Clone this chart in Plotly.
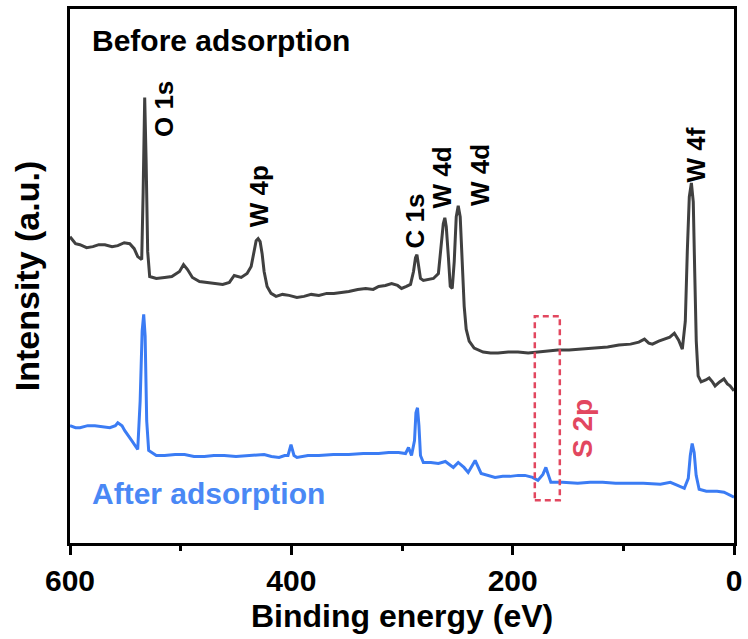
import plotly.graph_objects as go

# ---- data (binding energy in eV, intensity in a.u.) ----
before_energy = [600, 595, 591, 585, 579.3, 574, 568.5, 562, 556.8, 551, 546, 542, 538.8, 535.2,
                 533.9, 532.5, 531.2, 529.8, 528, 522, 514.5, 508, 501, 497.4, 493.8, 489.4, 483,
                 476, 469.6, 462, 456, 451.6, 445.3, 440, 436.3, 433.6, 431.8, 430, 428.2, 426.4,
                 424.6, 421.9, 418.3, 413.8, 408, 402.1, 395, 388.6, 382, 375.1, 368, 361.6, 355,
                 348.1, 340, 332.8, 326, 321.1, 315, 309.4, 304, 300.4, 296, 292.3, 289.6, 287.8,
                 286.5, 285.1, 283.3, 280.7, 276, 271.6, 267.1, 264.4, 262.7, 261.3, 260, 258.1,
                 256.4, 254.6, 252.8, 251, 249.2, 247.4, 245.6, 243.8, 242, 239.3, 234.8, 226.7,
                 220, 213.2, 204, 195.2, 186, 177.2, 168, 159.2, 149, 138.5, 126, 114.2, 104, 93.5,
                 86, 80.9, 77, 73.7, 68, 62.9, 58, 53.9, 50, 46.7, 44, 42.2, 40.4, 38.5, 36.8,
                 35.5, 34.1, 32.4, 29.7, 25.5, 22.5, 19.5, 17.1, 13, 9.1, 6, 3.6, 0]
before_intensity = [308, 301, 300, 297, 298, 300, 300, 298, 299, 302, 301, 296, 288, 285,
                    353, 448, 383, 293, 268, 266, 267, 268, 273, 280, 275, 267, 263,
                    262, 261, 260, 262, 269, 267, 271, 278, 295, 304, 306, 303, 291,
                    273, 258, 251, 248, 250, 249, 247, 248, 250, 249, 251, 251, 252,
                    253, 255, 256, 255, 258, 259, 261, 259, 256, 258, 260, 273, 287,
                    290, 281, 266, 264, 265, 266, 271, 298, 321, 327, 318, 288,
                    258, 256, 283, 328, 339, 328, 283, 238, 215, 203, 196, 192,
                    191, 191, 192, 192, 191, 192, 193, 194, 194, 195, 196, 197, 199, 200,
                    202, 205, 201, 200, 203, 205, 207, 211, 204, 195, 223, 293, 348, 362, 343,
                    273, 203, 168, 162, 164, 166, 162, 158, 162, 165, 160, 158, 153]

after_energy = [600, 595, 591, 584, 577.5, 570, 564, 559, 556.8, 553, 550.5, 544.2, 538.8, 536.6,
                534.8, 533.4, 532.1, 530.7, 528.9, 522, 514.5, 505, 496.5, 488, 478.6, 470, 460.6,
                450, 438.1, 431, 424.6, 418, 411.1, 406, 403, 400.3, 397.6, 394.9, 385, 375.1,
                362, 348.1, 335, 321.1, 312, 303.1, 296.8, 294.1, 291.4, 288.7, 287.4, 286,
                284.7, 283.3, 280.7, 274, 267.1, 260.8, 253.6, 249.2, 244, 240.2, 233.9, 228.5,
                222, 215.9, 209, 202.4, 195, 188.9, 182, 177.2, 172.7, 170, 167.3, 165.5, 155,
                141.2, 130, 118.7, 107, 96.2, 82, 66.5, 57.5, 51, 44.9, 41.3, 39.5, 37.8, 36,
                34.2, 31.5, 25, 15.3, 9, 3.6, 0]
after_intensity = [118, 116, 116, 118, 118, 117, 116, 118, 121, 118, 113, 103, 94, 143,
                   213, 230, 208, 123, 93, 88, 88, 89, 89, 87, 87, 88, 88,
                   87, 88, 89, 89, 87, 86, 88, 88, 99, 88, 86, 88, 88,
                   89, 89, 90, 90, 91, 91, 90, 96, 88, 103, 131, 136,
                   118, 88, 81, 81, 80, 82, 76, 81, 76, 71, 83, 70,
                   68, 66, 67, 67, 68, 68, 66, 63, 69, 76, 67, 61, 61,
                   60, 61, 61, 60, 60, 60, 59, 61, 58, 55, 65, 88, 100, 91,
                   68, 54, 52, 52, 51, 48, 46]

peak_labels = ["O 1s", "W 4p", "C 1s", "W 4d", "W 4d", "W 4f"]
peak_label_energy = [514.5, 429, 288.5, 263.5, 229.5, 34]
peak_label_intensity = [436, 349, 324, 368, 370, 390]

x_ticks = [600, 400, 200, 0]

# S 2p highlight box (energy range and intensity range)
s2p_box_energy = [180.0, 157.4]
s2p_box_intensity = [43, 228]

DARK = "#404040"
BLUE = "#3b7cf4"
RED = "#e2475f"
FONT = "Liberation Sans, Arial, sans-serif"

fig = go.Figure()
fig.add_trace(go.Scatter(x=before_energy, y=before_intensity, mode="lines",
                         line=dict(color=DARK, width=3), name="Before adsorption",
                         showlegend=False))
fig.add_trace(go.Scatter(x=after_energy, y=after_intensity, mode="lines",
                         line=dict(color=BLUE, width=3), name="After adsorption",
                         showlegend=False))

for txt, ex, iy in zip(peak_labels, peak_label_energy, peak_label_intensity):
    fig.add_annotation(x=ex, y=iy, text=f"<b>{txt}</b>", showarrow=False, textangle=-90,
                       font=dict(family=FONT, size=26, color="black"),
                       xanchor="center", yanchor="middle")

fig.add_annotation(x=582, y=505, text="<b>Before adsorption</b>", showarrow=False,
                   xanchor="left", yanchor="middle",
                   font=dict(family=FONT, size=30, color="black"))
fig.add_annotation(x=582, y=50, text="<b>After adsorption</b>", showarrow=False,
                   xanchor="left", yanchor="middle",
                   font=dict(family=FONT, size=30, color="#4a88f5"))
fig.add_annotation(x=137, y=115, text="<b>S 2p</b>", showarrow=False, textangle=-90,
                   xanchor="center", yanchor="middle",
                   font=dict(family=FONT, size=28, color=RED))

fig.add_shape(type="rect", x0=s2p_box_energy[0], x1=s2p_box_energy[1],
              y0=s2p_box_intensity[0], y1=s2p_box_intensity[1],
              line=dict(color=RED, width=2.5, dash="6px,4px"))

# x-axis title placed just under the tick labels
fig.add_annotation(xref="paper", yref="paper", x=0.5, y=0, yshift=-73,
                   text="<b>Binding energy (eV)</b>", showarrow=False,
                   xanchor="center", yanchor="middle",
                   font=dict(family=FONT, size=32, color="black"))

fig.update_layout(
    width=748, height=639,
    margin=dict(l=70, r=11, t=6, b=96),
    paper_bgcolor="white", plot_bgcolor="white",
    font=dict(family=FONT, color="black"),
)
fig.update_xaxes(
    range=[600, 0], tickvals=x_ticks, ticktext=[str(v) for v in x_ticks],
    showline=True, mirror=True, linecolor="black", linewidth=3,
    ticks="outside", ticklen=9, tickwidth=3, tickcolor="black",
    minor=dict(ticks="outside", ticklen=5, tickwidth=3, tickcolor="black",
               tickvals=[500, 300, 100]),
    showgrid=False, zeroline=False,
    tickfont=dict(family=FONT, size=30, weight="bold"),
)
fig.update_yaxes(
    range=[0, 537], showticklabels=False, ticks="",
    showline=True, mirror=True, linecolor="black", linewidth=3,
    showgrid=False, zeroline=False,
    title=dict(text="Intensity (a.u.)", standoff=18,
               font=dict(family=FONT, size=34, weight="bold")),
)

fig.write_html("out.html", config={"displayModeBar": False},
               post_script="document.body.style.margin='0';")
